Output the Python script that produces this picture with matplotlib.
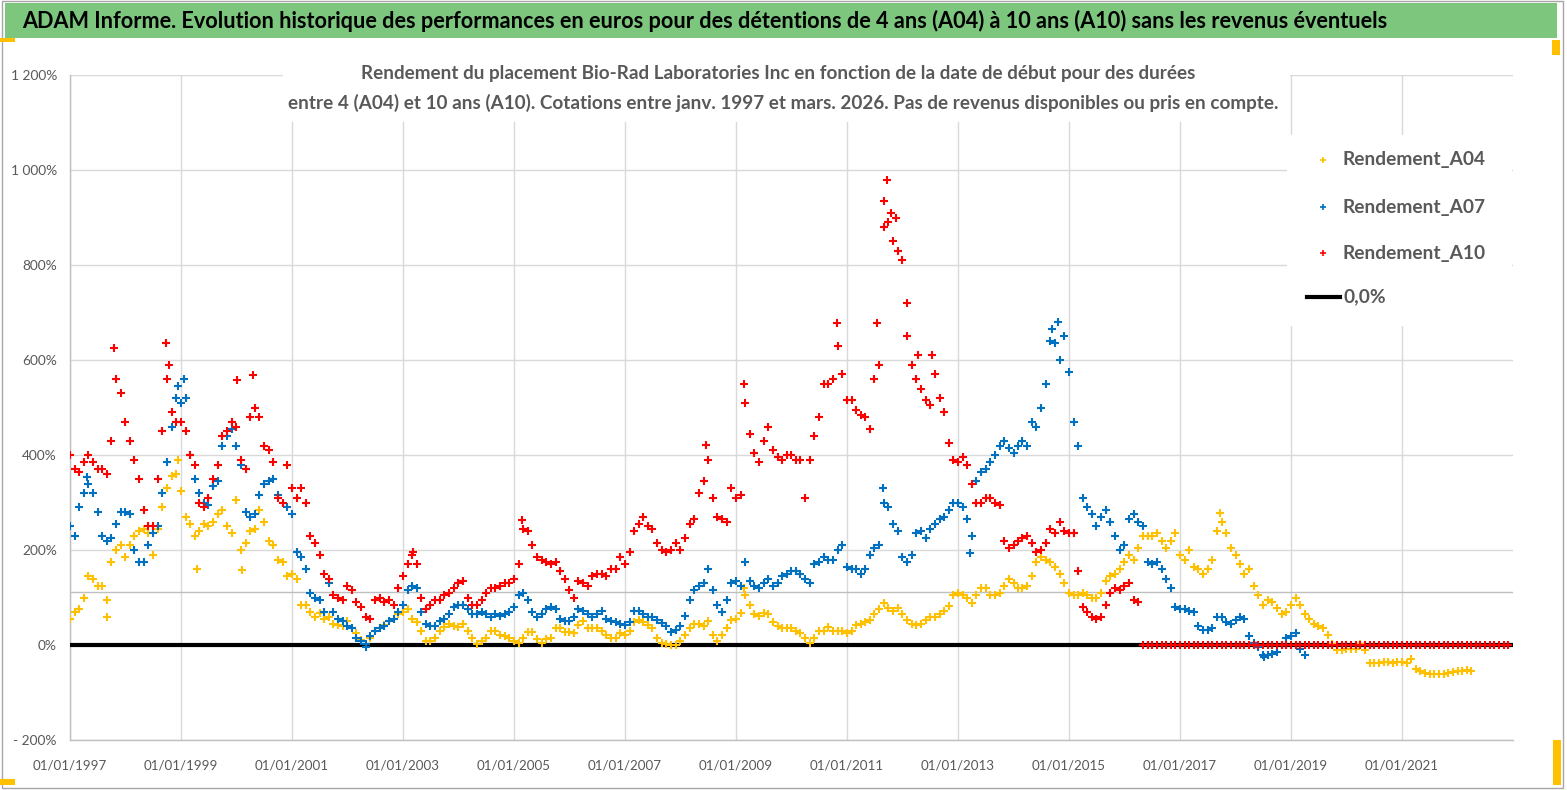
import numpy as np
import pandas as pd
import matplotlib
matplotlib.use("Agg")
import matplotlib.pyplot as plt
from matplotlib.patches import Rectangle
from matplotlib.lines import Line2D
from matplotlib.textpath import TextPath
from matplotlib.font_manager import FontProperties

# ---------------- data: monthly readings of the return (%) ----------------
a04_start = "1997-01-01"
a04 = [55, 70, 75, 100, 145, 140, 125, 125, 95, 175, 200, 210,
       185, 210, 230, 240, 245, 235, 190, 245, 290, 330, 355, 360,
       325, 270, 255, 230, 240, 255, 250, 260, 275, 285, 250, 235,
       305, 200, 215, 240, 245, 285, 260, 220, 210, 180, 175, 145,
       150, 140, 85, 85, 70, 60, 68, 55, 60, 45, 42, 40,
       50, 35, 25, 10, 3, 15, 30, 35, 42, 50, 55, 65,
       70, 75, 55, 48, 30, 8, 8, 15, 30, 38, 45, 40,
       38, 45, 30, 15, 2, 8, 15, 30, 30, 22, 18, 15,
       8, 5, 15, 28, 28, 12, 5, 12, 15, 35, 35, 28,
       28, 25, 42, 50, 35, 35, 35, 30, 22, 15, 15, 25,
       22, 30, 48, 52, 48, 42, 35, 15, 5, 2, 0, 0,
       8, 22, 35, 45, 45, 40, 50, 22, 8, 22, 35, 52,
       55, 68, 105, 85, 65, 62, 68, 65, 48, 40, 35, 35,
       35, 30, 25, 15, 5, 15, 30, 30, 38, 30, 30, 30,
       25, 30, 42, 45, 48, 52, 65, 75, 88, 78, 72, 78,
       65, 52, 45, 42, 45, 52, 58, 58, 65, 72, 82, 105,
       110, 105, 100, 88, 105, 120, 120, 105, 105, 110, 125, 140,
       130, 120, 120, 125, 145, 175, 185, 180, 175, 165, 150, 130,
       110, 105, 105, 110, 105, 100, 100, 110, 135, 145, 150, 160,
       175, 190, 180, 205, 230, 230, 230, 235, 220, 205, 220, 235,
       190, 180, 200, 165, 160, 150, 160, 180, 240, 260, 235, 205,
       190, 170, 150, 160, 125, 105, 85, 95, 90, 78, 65, 70,
       85, 100, 85, 65, 55, 45, 40, 35, 22, 3, -10, -10,
       -8, -8, -8, 2, -10, -38, -38, -38, -35, -35, -37, -35,
       -36, -37, -30, -50, -55, -58, -60, -62, -62, -60, -58, -57,
       -55, -55, -52, -55]
a04_peak_dates = ["1997-09-01", "1998-12-15", "1999-04-20", "2000-02-10",
                  "2017-09-20", "2009-02-25"]
a04_peaks = [60, 390, 160, 158, 278, 120]

a07_start = "1997-01-01"
a07 = [250, 230, 290, 320, 340, 320, 280, 230, 220, 225, 255, 280,
       280, 275, 200, 175, 175, 210, 235, 250, 320, 385, 460, 520,
       510, 520, 400, 350, 320, 300, 295, 335, 345, 420, 440, 455,
       420, 380, 280, 270, 275, 315, 340, 345, 350, 315, 300, 290,
       275, 195, 185, 160, 110, 100, 95, 70, 130, 70, 55, 50,
       40, 35, 15, 8, 3, 20, 30, 35, 40, 50, 55, 70,
       85, 115, 125, 120, 70, 45, 40, 40, 50, 55, 65, 80,
       85, 85, 75, 65, 65, 70, 65, 60, 65, 62, 65, 70,
       80, 105, 110, 95, 70, 60, 65, 75, 80, 75, 55, 50,
       50, 60, 75, 72, 65, 60, 65, 72, 55, 50, 48, 45,
       42, 48, 72, 72, 65, 58, 58, 52, 46, 40, 28, 32,
       40, 62, 95, 115, 125, 130, 160, 115, 85, 70, 95, 130,
       135, 125, 175, 135, 125, 120, 130, 140, 125, 130, 145, 150,
       155, 155, 150, 140, 130, 170, 175, 185, 180, 180, 200, 210,
       165, 160, 160, 150, 160, 190, 205, 210, 300, 290, 255, 240,
       185, 175, 190, 235, 240, 225, 245, 255, 265, 270, 285, 300,
       300, 290, 265, 230, 345, 365, 370, 385, 400, 420, 430, 415,
       405, 420, 430, 420, 470, 460, 500, 550, 640, 635, 600, 650,
       575, 470, 420, 310, 290, 275, 250, 270, 285, 260, 230, 200,
       210, 265, 275, 260, 250, 175, 170, 175, 160, 140, 120, 80,
       75, 75, 72, 70, 40, 32, 32, 35, 60, 60, 48, 45,
       52, 60, 55, 20, 5, -5, -20, -20, -18, -15, 0, 15,
       20, 25, -8, -20]
a07_peak_dates = ["2014-10-20", "2014-09-10", "1999-01-20", "1998-12-10",
                  "2011-08-25", "2013-03-20", "2018-07-10", "2002-05-01",
                  "1997-04-20"]
a07_peaks = [680, 665, 560, 545, 330, 193, -25, -5, 354]

a10_start = "1997-01-01"
a10 = [400, 370, 365, 385, 400, 385, 370, 370, 360, 430, 560, 530,
       470, 430, 390, 350, 285, 250, 250, 350, 450, 560, 490, 470,
       470, 450, 400, 380, 300, 290, 310, 350, 380, 440, 450, 470,
       460, 390, 370, 480, 500, 480, 420, 410, 385, 310, 300, 380,
       330, 310, 330, 300, 230, 215, 190, 150, 140, 105, 100, 95,
       125, 115, 90, 80, 60, 55, 95, 100, 90, 95, 85, 120,
       145, 170, 190, 170, 100, 75, 85, 95, 95, 105, 110, 120,
       130, 135, 100, 85, 85, 95, 110, 120, 120, 125, 130, 130,
       140, 170, 245, 240, 210, 185, 180, 175, 170, 175, 155, 140,
       115, 100, 135, 130, 125, 145, 150, 150, 145, 160, 160, 185,
       170, 195, 240, 255, 270, 250, 245, 215, 200, 195, 200, 215,
       200, 225, 255, 265, 320, 345, 390, 310, 270, 265, 260, 330,
       310, 315, 510, 445, 405, 385, 430, 460, 410, 395, 390, 400,
       400, 390, 390, 310, 390, 440, 480, 550, 550, 560, 630, 570,
       515, 515, 495, 485, 480, 455, 560, 590, 880, 890, 850, 830,
       810, 650, 590, 560, 540, 515, 505, 570, 520, 490, 425, 390,
       385, 395, 380, 340, 300, 300, 310, 310, 300, 295, 220, 205,
       210, 220, 225, 230, 215, 195, 200, 215, 245, 235, 260, 240,
       235, 235, 155, 80, 70, 60, 55, 60, 85, 110, 120, 115,
       125, 130, 95, 90]
a10_peak_dates = ["1997-10-20", "1998-09-25", "1998-10-15", "2000-01-05",
                  "2000-04-20", "2009-02-20", "2010-10-25", "2011-09-20",
                  "2011-09-05", "2011-10-15", "2011-11-20", "2012-02-01",
                  "2012-04-10", "2005-02-20", "2008-06-20", "2003-03-10",
                  "2011-07-20", "2012-07-15"]
a10_peaks = [625, 635, 590, 558, 568, 550, 677, 979,
             935, 910, 900, 720, 610, 263, 421, 196,
             677, 610]
# A10 has no value after spring 2016: plotted as 0 up to the end of the axis
a10_zero_start = "2016-05-01"
a10_zero_end = "2022-12-01"

zero_line_start = "1997-01-01"
zero_line_end = "2023-01-01"
extra_hline = 111

yticks = [-200, 0, 200, 400, 600, 800, 1000, 1200]
ytick_labels = ["- 200%", "0%", "200%", "400%", "600%", "800%", "1 000%", "1 200%"]
xtick_years = list(range(1997, 2022, 2))

title = ("ADAM Informe. Evolution historique des performances en euros pour des "
         "détentions de 4 ans (A04) à 10 ans (A10) sans les revenus éventuels")
subtitle1 = ("Rendement du placement Bio-Rad Laboratories Inc en fonction de la date "
             "de début pour des durées")
subtitle2 = ("entre 4 (A04) et 10 ans (A10). Cotations entre janv. 1997 et mars. 2026. "
             "Pas de revenus disponibles ou pris en compte.")
legend_labels = ["Rendement_A04", "Rendement_A07", "Rendement_A10", "0,0%"]

# ---------------- style ----------------
C04, C07, C10 = "#FFC000", "#0070C0", "#FF0000"
GRAY_TXT = "#595959"
GRID = "#D9D9D9"
GREEN = "#7CC67E"
FAM = "Lato"
plt.rcParams["font.family"] = [FAM, "DejaVu Sans"]

W, H = 1567, 790
fig = plt.figure(figsize=(W / 100, H / 100), dpi=100)
fig.patch.set_facecolor("white")


def fx(px):
    return px / W


def fy(py):
    return 1 - py / H


def fit(s, target_px, weight="normal"):
    fp = FontProperties(family=FAM, weight=weight, size=10)
    w = TextPath((0, 0), s, prop=fp).get_extents().width * 100 / 72
    return 10 * target_px / w


# plot area
L, R, T, B = 70, 1513, 75, 740
ax = fig.add_axes([fx(L), fy(B), fx(R) - fx(L), fy(T) - fy(B)])
ax.set_facecolor("white")

d04 = pd.date_range(a04_start, periods=len(a04), freq="MS")
d07 = pd.date_range(a07_start, periods=len(a07), freq="MS")
d10 = pd.date_range(a10_start, periods=len(a10), freq="MS")
dz = pd.date_range(a10_zero_start, a10_zero_end, freq="MS")

ax.plot([pd.Timestamp(zero_line_start), pd.Timestamp(zero_line_end)], [0, 0],
        color="black", lw=3.0, zorder=3, solid_capstyle="butt")
ax.axhline(extra_hline, color="#BFBFBF", lw=1.0, zorder=1)

kw = dict(marker="+", s=34, linewidths=1.5)
ax.scatter(d04, a04, color=C04, zorder=4, **kw)
ax.scatter(pd.to_datetime(a04_peak_dates), a04_peaks, color=C04, zorder=4, **kw)
ax.scatter(d07, a07, color=C07, zorder=5, **kw)
ax.scatter(pd.to_datetime(a07_peak_dates), a07_peaks, color=C07, zorder=5, **kw)
ax.scatter(d10, a10, color=C10, zorder=6, **kw)
ax.scatter(pd.to_datetime(a10_peak_dates), a10_peaks, color=C10, zorder=6, **kw)
ax.scatter(dz, np.zeros(len(dz)), color=C10, zorder=6, **kw)

ax.set_xlim(pd.Timestamp("1997-01-01"), pd.Timestamp("2023-01-01"))
ax.set_ylim(-200, 1200)

ax.set_yticks(yticks)
ax.set_yticklabels(ytick_labels, fontsize=fit("- 200%", 42), color=GRAY_TXT)
xt = [pd.Timestamp(f"{y}-01-01") for y in xtick_years]
ax.set_xticks(xt)
ax.set_xticklabels([f"01/01/{y}" for y in xtick_years],
                   fontsize=fit("01/01/1997", 73), color=GRAY_TXT)
ax.tick_params(axis="y", length=0, pad=9.4)
ax.tick_params(axis="x", length=0, pad=14)
ax.grid(True, color=GRID, lw=1.0, zorder=0)
ax.set_axisbelow(True)
for side in ("top", "right"):
    ax.spines[side].set_visible(False)
for side in ("left", "bottom"):
    ax.spines[side].set_color("#BFBFBF")
    ax.spines[side].set_linewidth(1.0)

# white boxes behind subtitle and legend
fig.add_artist(Rectangle((fx(283), fy(122)), fx(1290) - fx(283), fy(55) - fy(122),
                         transform=fig.transFigure, facecolor="white",
                         edgecolor="none", zorder=2))
fig.add_artist(Rectangle((fx(1287), fy(326)), fx(1512) - fx(1287), fy(135) - fy(326),
                         transform=fig.transFigure, facecolor="white",
                         edgecolor="none", zorder=2))

# title bar
fig.add_artist(Rectangle((fx(5), fy(38)), fx(1557) - fx(5), fy(3) - fy(38),
                         transform=fig.transFigure, facecolor=GREEN,
                         edgecolor="none", zorder=1))
fig.text(fx(22), fy(21), title, ha="left", va="center", color="black",
         fontsize=fit(title, 1356, "bold"), fontweight="bold", zorder=3)

# subtitle
fig.text(fx(778), fy(74), subtitle1, ha="center", va="center", color=GRAY_TXT,
         fontsize=fit(subtitle1, 829, "bold"), fontweight="bold", zorder=3)
fig.text(fx(783), fy(103), subtitle2, ha="center", va="center", color=GRAY_TXT,
         fontsize=fit(subtitle2, 987, "bold"), fontweight="bold", zorder=3)

# legend
lg_size = fit("Rendement_A04", 141, "bold")
lg_y = [160, 207, 253, 297]
for lab, col, y in zip(legend_labels[:3], [C04, C07, C10], lg_y[:3]):
    fig.add_artist(Line2D([fx(1323)], [fy(y)], marker="+", ms=5, mew=1.2,
                          color=col, transform=fig.transFigure, zorder=3))
    fig.text(fx(1343), fy(y), lab, ha="left", va="center", color=GRAY_TXT,
             fontsize=lg_size, fontweight="bold", zorder=3)
fig.add_artist(Line2D([fx(1307), fx(1340)], [fy(lg_y[3])] * 2, color="black",
                      lw=3, transform=fig.transFigure, zorder=3))
fig.text(fx(1343), fy(lg_y[3]), legend_labels[3], ha="left", va="center",
         color=GRAY_TXT, fontsize=lg_size, fontweight="bold", zorder=3)

# outer frame and decorative corner marks
fig.add_artist(Rectangle((fx(2), fy(788)), fx(1563) - fx(2), fy(1) - fy(788),
                         transform=fig.transFigure, facecolor="none",
                         edgecolor="#A6A6A6", lw=1.0, zorder=1))
for (x0, y0, x1, y1, c) in [(0, 38, 15, 42, "#FFC000"), (0, 779, 15, 785, "#FFC000"),
                            (1552, 40, 1560, 55, "#FFC000"),
                            (1553, 740, 1561, 785, "#FFC000")]:
    fig.add_artist(Rectangle((fx(x0), fy(y1)), fx(x1) - fx(x0), fy(y0) - fy(y1),
                             transform=fig.transFigure, facecolor=c,
                             edgecolor="none", zorder=2))

fig.savefig("out.png", dpi=100)
